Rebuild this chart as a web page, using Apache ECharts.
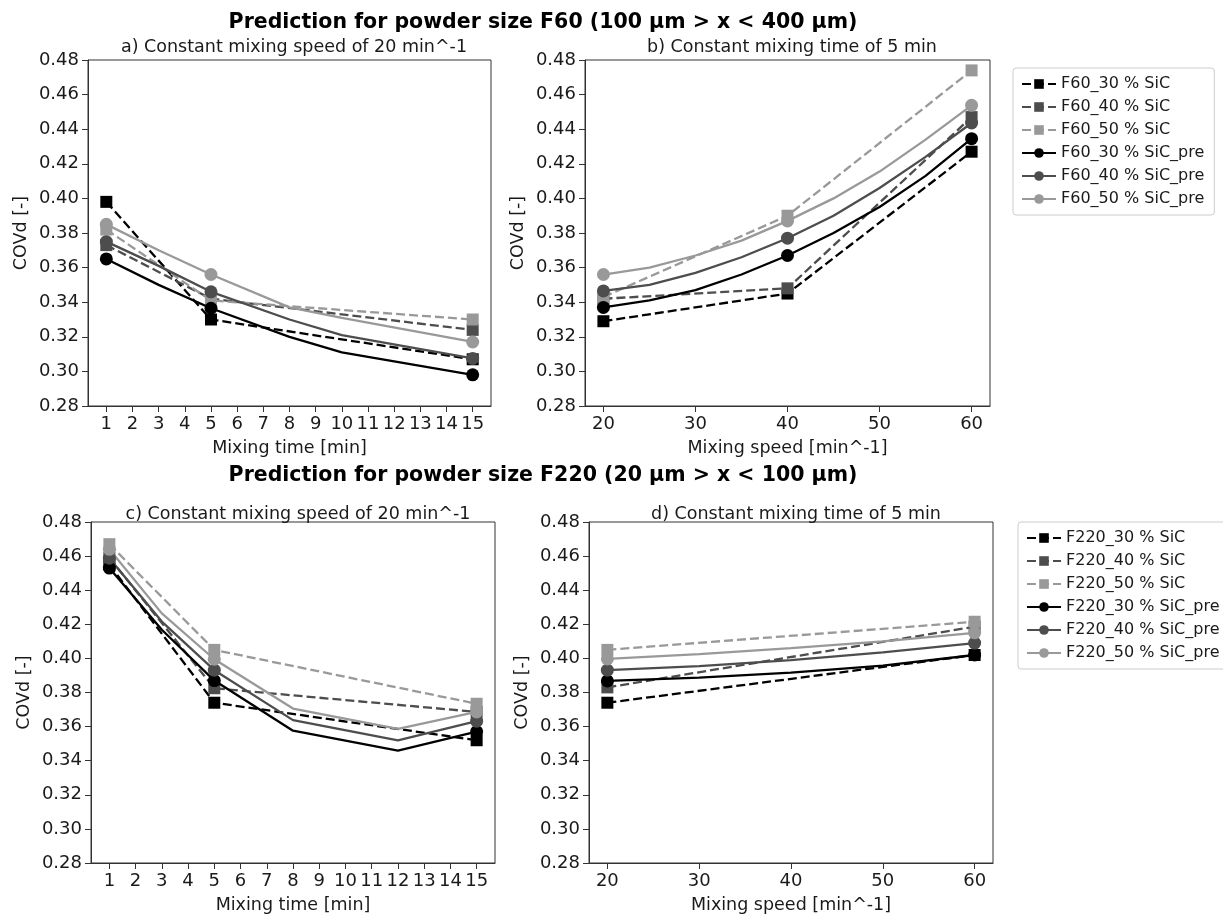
<!DOCTYPE html>
<html>
<head>
<meta charset="utf-8">
<script src="https://cdn.jsdelivr.net/npm/echarts@6/dist/echarts.min.js"></script>
<style>
html,body{margin:0;padding:0;background:#fff;}
#main{width:1223px;height:915px;}
</style>
</head>
<body>
<div id="main"></div>
<script>
// ---------- Data ----------
const timeTicks = [1,2,3,4,5,6,7,8,9,10,11,12,13,14,15];
const speedTicks = [20,30,40,50,60];
const yTicks = [0.28,0.30,0.32,0.34,0.36,0.38,0.40,0.42,0.44,0.46,0.48];

const measTime = [1, 5, 15];
const measSpeed = [20, 40, 60];

// Panel a: F60, constant speed 20 min^-1
const aPredTime = [1, 3, 5, 8, 10, 15];
const a30 = [0.398, 0.330, 0.307];
const a40 = [0.373, 0.342, 0.324];
const a50 = [0.382, 0.341, 0.330];
const a30pre = [0.365, 0.350, 0.3365, 0.320, 0.311, 0.298];
const a40pre = [0.375, 0.361, 0.346, 0.330, 0.321, 0.3075];
const a50pre = [0.385, 0.370, 0.356, 0.337, 0.331, 0.317];

// Panel b: F60, constant time 5 min
const bPredSpeed = [20, 25, 30, 35, 40, 45, 50, 55, 60];
const b30 = [0.329, 0.345, 0.427];
const b40 = [0.342, 0.348, 0.447];
const b50 = [0.343, 0.390, 0.474];
const b30pre = [0.337, 0.341, 0.347, 0.356, 0.367, 0.380, 0.395, 0.413, 0.4345];
const b40pre = [0.3465, 0.350, 0.357, 0.366, 0.377, 0.390, 0.406, 0.424, 0.4436];
const b50pre = [0.356, 0.360, 0.367, 0.3756, 0.387, 0.400, 0.4155, 0.434, 0.4538];

// Panel c: F220, constant speed 20 min^-1
const cPredTime = [1, 3, 5, 8, 12, 15];
const c30 = [0.455, 0.374, 0.352];
const c40 = [0.459, 0.3825, 0.3686];
const c50 = [0.467, 0.405, 0.3734];
const c30pre = [0.453, 0.4168, 0.387, 0.3576, 0.3459, 0.357];
const c40pre = [0.4588, 0.4216, 0.3931, 0.3638, 0.3519, 0.3632];
const c50pre = [0.464, 0.4264, 0.3995, 0.3706, 0.3586, 0.3686];

// Panel d: F220, constant time 5 min
const dPredSpeed = [20, 30, 40, 50, 60];
const dMeasSpeed = [20, 60];
const d30 = [0.374, 0.402];
const d40 = [0.383, 0.4186];
const d50 = [0.405, 0.4215];
const d30pre = [0.3868, 0.3887, 0.3916, 0.3958, 0.402];
const d40pre = [0.3931, 0.3955, 0.399, 0.4035, 0.409];
const d50pre = [0.3997, 0.4025, 0.406, 0.410, 0.415];

const namesF60 = ['F60_30 % SiC','F60_40 % SiC','F60_50 % SiC','F60_30 % SiC_pre','F60_40 % SiC_pre','F60_50 % SiC_pre'];
const namesF220 = ['F220_30 % SiC','F220_40 % SiC','F220_50 % SiC','F220_30 % SiC_pre','F220_40 % SiC_pre','F220_50 % SiC_pre'];

// ---------- Styling ----------
const colors = ['#000000', '#4d4d4d', '#999999'];
const FONT = 'DejaVu Sans';
const TXT = '#1a1a1a';

function measSeries(name, idx, xs, ys, color) {
  return {
    type: 'line', name: name, xAxisIndex: idx, yAxisIndex: idx,
    data: xs.map((x, i) => [x, ys[i]]),
    symbol: 'rect', symbolSize: 12, showSymbol: true,
    lineStyle: {color: color, width: 2.3, type: [9, 4]},
    itemStyle: {color: color},
    emphasis: {disabled: true}, animation: false, z: 2
  };
}
function predSeries(name, idx, xs, ys, markX, color) {
  return {
    type: 'line', name: name, xAxisIndex: idx, yAxisIndex: idx,
    data: xs.map((x, i) => ({value: [x, ys[i]], symbol: markX.indexOf(x) >= 0 ? 'circle' : 'none'})),
    symbol: 'circle', symbolSize: 13, showSymbol: true, showAllSymbol: true,
    lineStyle: {color: color, width: 2.3, type: 'solid'},
    itemStyle: {color: color},
    emphasis: {disabled: true}, animation: false, z: 3
  };
}

const grids = [
  {left: 88, top: 60, width: 403, height: 346},
  {left: 585, top: 60, width: 405, height: 346},
  {left: 91, top: 522, width: 404, height: 345},
  {left: 589, top: 522, width: 404, height: 345}
].map(g => Object.assign(g, {show: true, borderColor: '#333', borderWidth: 1, backgroundColor: '#fff'}));

function xAxisDef(idx, isTime, name) {
  const ticks = isTime ? timeTicks : speedTicks;
  return {
    type: 'value', gridIndex: idx,
    min: isTime ? 0.3 : 18, max: isTime ? 15.7 : 62,
    name: name, nameLocation: 'middle', nameGap: 33,
    nameTextStyle: {fontFamily: FONT, fontSize: 17.5, color: TXT},
    axisLine: {show: true, onZero: false, lineStyle: {color: '#333', width: 1}},
    axisTick: {show: true, customValues: ticks, length: 6, inside: false, lineStyle: {color: '#333'}},
    axisLabel: {show: true, customValues: ticks, fontFamily: FONT, fontSize: 18, color: TXT, margin: 9},
    splitLine: {show: false}
  };
}
function yAxisDef(idx) {
  return {
    type: 'value', gridIndex: idx, min: 0.28, max: 0.48,
    name: 'COVd [-]', nameLocation: 'middle', nameGap: 58,
    nameTextStyle: {fontFamily: FONT, fontSize: 17.5, color: TXT},
    axisLine: {show: true, onZero: false, lineStyle: {color: '#333', width: 1}},
    axisTick: {show: true, customValues: yTicks, length: 6, lineStyle: {color: '#333'}},
    axisLabel: {show: true, customValues: yTicks, fontFamily: FONT, fontSize: 18, color: TXT, margin: 9,
      formatter: v => Number(v).toFixed(2)},
    splitLine: {show: false}
  };
}

const series = [
  measSeries(namesF60[0], 0, measTime, a30, colors[0]),
  measSeries(namesF60[1], 0, measTime, a40, colors[1]),
  measSeries(namesF60[2], 0, measTime, a50, colors[2]),
  predSeries(namesF60[3], 0, aPredTime, a30pre, measTime, colors[0]),
  predSeries(namesF60[4], 0, aPredTime, a40pre, measTime, colors[1]),
  predSeries(namesF60[5], 0, aPredTime, a50pre, measTime, colors[2]),

  measSeries(namesF60[0], 1, measSpeed, b30, colors[0]),
  measSeries(namesF60[1], 1, measSpeed, b40, colors[1]),
  measSeries(namesF60[2], 1, measSpeed, b50, colors[2]),
  predSeries(namesF60[3], 1, bPredSpeed, b30pre, measSpeed, colors[0]),
  predSeries(namesF60[4], 1, bPredSpeed, b40pre, measSpeed, colors[1]),
  predSeries(namesF60[5], 1, bPredSpeed, b50pre, measSpeed, colors[2]),

  measSeries(namesF220[0], 2, measTime, c30, colors[0]),
  measSeries(namesF220[1], 2, measTime, c40, colors[1]),
  measSeries(namesF220[2], 2, measTime, c50, colors[2]),
  predSeries(namesF220[3], 2, cPredTime, c30pre, measTime, colors[0]),
  predSeries(namesF220[4], 2, cPredTime, c40pre, measTime, colors[1]),
  predSeries(namesF220[5], 2, cPredTime, c50pre, measTime, colors[2]),

  measSeries(namesF220[0], 3, dMeasSpeed, d30, colors[0]),
  measSeries(namesF220[1], 3, dMeasSpeed, d40, colors[1]),
  measSeries(namesF220[2], 3, dMeasSpeed, d50, colors[2]),
  predSeries(namesF220[3], 3, dPredSpeed, d30pre, dMeasSpeed, colors[0]),
  predSeries(namesF220[4], 3, dPredSpeed, d40pre, dMeasSpeed, colors[1]),
  predSeries(namesF220[5], 3, dPredSpeed, d50pre, dMeasSpeed, colors[2])
];

function legendDef(names, left, top) {
  return {
    data: names, orient: 'vertical', left: left, top: top,
    itemWidth: 34, itemHeight: 12, itemGap: 7,
    padding: [8, 10, 8, 8],
    borderColor: '#cccccc', borderWidth: 1, borderRadius: 3,
    backgroundColor: '#fff',
    textStyle: {fontFamily: FONT, fontSize: 16, color: TXT},
    selectedMode: false
  };
}

const titleStyle = {fontFamily: FONT, fontSize: 17.5, fontWeight: 'normal', color: TXT};
const supStyle = {fontFamily: FONT, fontSize: 20.5, fontWeight: 'bold', color: '#000'};

const option = {
  backgroundColor: '#fff',
  animation: false,
  title: [
    {text: 'Prediction for powder size F60 (100 µm > x < 400 µm)', left: 538, top: 7, textAlign: 'center', textStyle: supStyle},
    {text: 'a) Constant mixing speed of 20 min^-1', left: 289, top: 33, textAlign: 'center', textStyle: titleStyle},
    {text: 'b) Constant mixing time of 5 min', left: 787, top: 33, textAlign: 'center', textStyle: titleStyle},
    {text: 'Prediction for powder size F220 (20 µm > x < 100 µm)', left: 538, top: 460, textAlign: 'center', textStyle: supStyle},
    {text: 'c) Constant mixing speed of 20 min^-1', left: 293, top: 500, textAlign: 'center', textStyle: titleStyle},
    {text: 'd) Constant mixing time of 5 min', left: 791, top: 500, textAlign: 'center', textStyle: titleStyle}
  ],
  grid: grids,
  xAxis: [
    xAxisDef(0, true, 'Mixing time [min]'),
    xAxisDef(1, false, 'Mixing speed [min^-1]'),
    xAxisDef(2, true, 'Mixing time [min]'),
    xAxisDef(3, false, 'Mixing speed [min^-1]')
  ],
  yAxis: [yAxisDef(0), yAxisDef(1), yAxisDef(2), yAxisDef(3)],
  legend: [legendDef(namesF60, 1013, 68), legendDef(namesF220, 1018, 522)],
  series: series
};

const chart = echarts.init(document.getElementById('main'), null, {renderer: 'canvas'});
chart.setOption(option);
</script>
</body>
</html>
